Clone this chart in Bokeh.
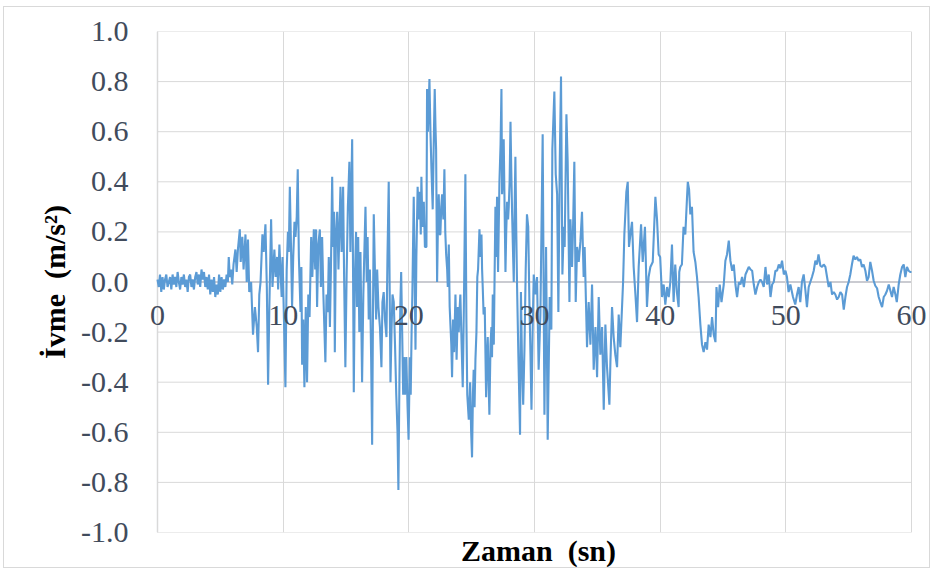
import math

from bokeh.embed import file_html
from bokeh.models import FixedTicker, LinearAxis
from bokeh.plotting import figure
from bokeh.resources import INLINE

# Acceleration record (time in s, acceleration in m/s^2), split into segments
seg_00_06 = [
    (0.0, 0.01), (0.1, -0.02), (0.2, 0.03), (0.3, -0.04), (0.4, 0.02), (0.5, -0.03), (0.6, 0.01), (0.7, 0.03), (0.8, -0.02), (0.9, 0.00),
    (1.0, 0.02), (1.1, -0.03), (1.2, 0.03), (1.3, -0.01), (1.4, 0.02), (1.5, -0.02), (1.6, 0.04), (1.7, 0.00), (1.8, -0.03), (1.9, 0.02),
    (2.0, -0.01), (2.1, 0.03), (2.2, -0.02), (2.3, 0.01), (2.4, -0.04), (2.5, 0.02), (2.6, 0.03), (2.7, -0.02), (2.8, 0.01), (2.9, -0.03),
    (3.0, 0.02), (3.1, 0.04), (3.2, -0.01), (3.3, 0.03), (3.4, -0.02), (3.5, 0.05), (3.6, 0.01), (3.7, 0.04), (3.8, -0.02), (3.9, 0.02),
    (4.0, -0.03), (4.1, 0.03), (4.2, -0.05), (4.3, 0.01), (4.4, -0.04), (4.5, 0.02), (4.6, -0.06), (4.7, -0.01), (4.8, -0.05), (4.9, 0.03),
    (5.0, -0.04), (5.1, 0.02), (5.2, -0.03), (5.3, 0.01), (5.4, -0.02), (5.5, 0.03), (5.6, 0.00),
]

seg_06_10 = [
    (5.67, 0.10), (5.75, 0.02), (5.85, 0.05), (5.95, -0.01), (6.05, 0.07), (6.2, 0.13), (6.3, 0.04), (6.4, 0.13), (6.55, 0.21), (6.62, 0.08),
    (6.75, 0.18), (6.85, 0.05), (7.0, 0.19), (7.1, 0.00), (7.2, 0.17), (7.3, -0.04), (7.45, 0.00), (7.6, -0.21), (7.75, -0.10), (7.9, -0.18),
    (8.0, -0.28), (8.1, -0.05), (8.2, 0.00), (8.35, 0.19), (8.45, 0.12), (8.59, 0.23), (8.7, -0.02), (8.8, -0.41), (8.9, -0.10), (9.04, 0.25),
    (9.15, -0.02), (9.3, 0.13), (9.4, 0.02), (9.52, 0.10), (9.6, -0.03), (9.7, 0.15),
]

seg_10_20 = [
    (9.8, 0.03), (9.88, -0.06), (9.95, 0.10), (10.05, -0.12), (10.18, -0.42), (10.28, 0.05), (10.38, 0.20), (10.45, 0.12), (10.53, 0.38), (10.62, 0.15),
    (10.71, -0.10), (10.8, 0.10), (10.9, 0.24), (10.98, 0.18), (11.08, 0.26), (11.16, 0.45), (11.25, 0.10), (11.38, -0.12), (11.45, 0.06), (11.51, -0.33),
    (11.6, -0.15), (11.69, -0.42), (11.8, -0.10), (11.9, -0.40), (12.0, -0.05), (12.1, -0.14), (12.23, 0.18), (12.32, 0.02), (12.44, 0.21), (12.55, 0.05),
    (12.62, 0.21), (12.7, -0.10), (12.8, 0.15), (12.92, 0.21), (13.0, -0.02), (13.1, 0.18), (13.2, -0.05), (13.36, -0.32), (13.45, -0.05), (13.55, -0.12),
    (13.63, 0.10), (13.72, -0.18), (13.8, 0.05), (13.9, 0.42), (13.97, 0.14), (14.05, 0.28), (14.11, -0.28), (14.2, 0.19), (14.3, 0.28), (14.4, 0.05),
    (14.48, 0.22), (14.56, 0.38), (14.65, 0.12), (14.77, 0.38), (14.85, 0.02), (14.95, -0.34), (15.05, 0.03), (15.15, 0.30), (15.27, 0.48), (15.35, 0.12),
    (15.49, 0.57), (15.56, 0.05), (15.62, -0.44), (15.7, 0.00), (15.8, 0.20), (15.88, -0.10), (15.97, 0.18), (16.06, -0.20), (16.15, 0.12), (16.28, -0.40),
    (16.38, -0.05), (16.45, 0.10), (16.55, 0.30), (16.65, 0.00), (16.72, 0.18), (16.81, -0.15), (16.9, 0.05), (17.0, -0.30), (17.08, -0.65), (17.15, -0.10),
    (17.21, 0.27), (17.3, 0.05), (17.4, -0.15), (17.48, 0.05), (17.58, -0.10), (17.7, -0.18), (17.82, -0.34), (17.9, -0.08), (18.0, -0.04), (18.1, -0.15),
    (18.22, -0.22), (18.3, 0.10), (18.4, 0.40), (18.47, 0.00), (18.54, -0.40), (18.62, -0.20), (18.7, -0.05), (18.8, -0.08), (18.9, -0.25), (19.0, -0.45),
    (19.1, -0.60), (19.17, -0.83), (19.25, -0.40), (19.32, -0.10), (19.39, 0.04), (19.47, -0.20), (19.55, -0.45), (19.62, -0.30), (19.7, -0.45), (19.8, -0.30),
    (19.9, -0.50), (19.98, -0.63), (20.08, -0.30), (20.15, -0.45), (20.22, -0.20), (20.28, -0.05),
]

seg_20_30 = [
    (20.39, 0.34), (20.46, 0.05), (20.53, -0.27), (20.6, 0.10), (20.7, 0.38), (20.79, 0.25), (20.88, 0.36), (20.95, 0.19), (21.0, 0.42), (21.08, 0.22),
    (21.19, 0.32), (21.28, 0.14), (21.4, 0.14), (21.45, 0.77), (21.52, 0.60), (21.58, 0.70), (21.64, 0.81), (21.72, 0.60), (21.8, 0.45), (21.9, 0.29),
    (21.98, 0.55), (22.06, 0.77), (22.12, 0.62), (22.17, 0.53), (22.25, 0.00), (22.32, 0.25), (22.38, 0.35), (22.45, 0.19), (22.51, 0.19), (22.58, 0.30),
    (22.65, 0.35), (22.75, 0.25), (22.83, 0.45), (22.9, 0.20), (22.97, 0.11), (23.05, 0.05), (23.1, -0.02), (23.18, 0.15), (23.25, -0.10), (23.31, -0.17),
    (23.38, -0.25), (23.44, -0.38), (23.52, -0.15), (23.6, -0.28), (23.71, -0.05), (23.8, -0.31), (23.9, -0.10), (23.97, -0.20), (24.05, -0.10), (24.1, -0.05),
    (24.2, -0.25), (24.29, -0.42), (24.38, -0.10), (24.5, 0.43), (24.58, -0.15), (24.65, -0.45), (24.77, -0.55), (24.88, -0.40), (24.96, -0.60), (25.03, -0.70),
    (25.1, -0.45), (25.16, -0.35), (25.23, -0.50), (25.3, -0.31), (25.38, -0.20), (25.45, 0.02), (25.51, 0.05), (25.62, 0.21), (25.7, 0.10), (25.78, 0.19),
    (25.83, 0.05), (25.88, -0.02), (25.95, -0.13), (26.04, -0.10), (26.15, -0.46), (26.22, -0.30), (26.28, -0.22), (26.35, -0.40), (26.41, -0.53), (26.5, -0.25),
    (26.57, -0.18), (26.62, -0.30), (26.68, -0.05), (26.76, -0.25), (26.89, 0.30), (26.95, 0.10), (27.02, 0.34), (27.1, 0.04), (27.21, 0.40), (27.3, 0.55),
    (27.37, 0.77), (27.42, 0.35), (27.47, 0.42), (27.55, 0.57), (27.62, 0.30), (27.69, 0.04), (27.75, 0.20), (27.82, 0.32), (27.9, 0.25), (27.95, 0.30),
    (28.02, 0.40), (28.09, 0.64), (28.15, 0.45), (28.22, 0.27), (28.3, 0.10), (28.35, 0.00), (28.42, 0.30), (28.48, 0.50), (28.55, 0.20), (28.61, -0.01),
    (28.72, -0.30), (28.85, -0.61), (28.92, -0.04), (29.0, -0.30), (29.1, -0.49), (29.2, -0.27), (29.3, 0.05), (29.4, 0.27), (29.5, 0.22), (29.6, -0.10),
    (29.68, -0.29), (29.76, -0.51), (29.85, -0.20), (29.94, 0.03),
]

seg_30_40 = [
    (30.07, -0.05), (30.2, 0.02), (30.33, -0.35), (30.47, -0.13), (30.65, 0.59), (30.79, -0.53), (30.92, 0.14), (31.05, -0.63), (31.21, -0.06), (31.34, -0.19),
    (31.42, 0.53), (31.58, 0.76), (31.69, 0.43), (31.8, 0.35), (31.9, -0.12), (32.01, 0.48), (32.11, 0.82), (32.22, 0.03), (32.33, 0.22), (32.4, 0.14),
    (32.54, 0.67), (32.64, 0.48), (32.78, -0.08), (32.86, 0.25), (32.99, 0.06), (33.07, 0.22), (33.17, 0.48), (33.28, -0.08), (33.39, 0.14), (33.52, 0.08),
    (33.65, 0.16), (33.78, 0.28), (33.91, 0.02), (33.99, 0.14), (34.1, -0.09), (34.18, -0.26), (34.31, -0.08), (34.45, -0.25), (34.58, -0.01), (34.71, -0.35),
    (34.85, -0.18), (34.98, -0.38), (35.11, -0.06), (35.24, -0.29), (35.38, -0.18), (35.51, -0.51), (35.64, -0.17), (35.77, -0.34), (35.96, -0.49), (36.04, -0.32),
    (36.17, -0.10), (36.3, -0.22), (36.43, -0.29), (36.57, -0.34), (36.7, -0.13), (36.83, -0.26), (37.05, 0.00), (37.15, 0.19), (37.31, 0.36), (37.42, 0.40),
    (37.52, 0.14), (37.63, 0.19), (37.76, 0.24), (37.89, 0.06), (38.03, -0.05), (38.16, -0.16), (38.29, 0.06), (38.48, 0.23), (38.61, 0.08), (38.79, 0.22),
    (38.95, -0.10), (39.08, 0.02), (39.22, 0.06), (39.41, 0.08), (39.62, 0.34), (39.75, 0.25), (39.88, 0.11),
]

seg_40_50 = [
    (40.0, 0.10), (40.15, -0.06), (40.28, -0.01), (40.41, -0.09), (40.55, -0.02), (40.68, -0.06), (40.81, 0.00), (40.94, 0.15), (41.07, -0.08), (41.2, 0.07),
    (41.33, -0.04), (41.47, -0.10), (41.52, 0.04), (41.6, 0.06), (41.73, 0.07), (41.86, 0.22), (42.0, 0.19), (42.13, 0.33), (42.2, 0.40), (42.3, 0.37),
    (42.4, 0.27), (42.53, 0.30), (42.66, 0.12), (42.8, 0.08), (42.93, 0.02), (43.06, -0.06), (43.2, -0.17), (43.33, -0.25), (43.46, -0.28), (43.6, -0.24),
    (43.73, -0.27), (43.86, -0.17), (44.0, -0.22), (44.13, -0.14), (44.26, -0.21), (44.4, -0.24), (44.48, -0.02), (44.61, -0.10), (44.74, -0.01), (44.88, -0.08),
    (45.06, -0.01), (45.19, 0.085), (45.32, 0.11), (45.46, 0.165), (45.59, 0.085), (45.73, 0.045), (45.86, 0.07), (45.99, -0.01), (46.12, -0.06), (46.26, 0.00),
    (46.39, -0.01), (46.52, 0.02), (46.66, -0.02), (46.79, 0.03), (46.92, 0.045), (47.05, 0.06), (47.19, 0.05), (47.32, 0.045), (47.45, -0.01), (47.58, -0.05),
    (47.72, -0.02), (47.85, 0.00), (47.98, 0.01), (48.11, 0.00), (48.24, -0.02), (48.38, 0.06), (48.51, -0.01), (48.64, 0.03), (48.78, -0.06), (48.91, -0.01),
    (49.04, 0.00), (49.17, 0.045), (49.3, 0.045), (49.44, 0.07), (49.57, 0.055), (49.7, 0.085), (49.84, 0.03), (49.97, 0.045),
]

seg_50_60 = [
    (50.09, 0.02), (50.22, -0.04), (50.36, -0.01), (50.57, -0.06), (50.75, -0.09), (50.89, -0.05), (51.02, -0.02), (51.15, -0.08), (51.28, 0.00), (51.42, 0.03),
    (51.55, -0.03), (51.68, -0.10), (51.82, -0.02), (51.95, 0.00), (52.08, 0.02), (52.22, 0.045), (52.35, 0.085), (52.48, 0.07), (52.6, 0.11), (52.75, 0.065),
    (52.88, 0.06), (53.01, 0.07), (53.15, 0.06), (53.28, 0.02), (53.41, -0.02), (53.55, 0.00), (53.68, -0.05), (53.81, -0.04), (53.94, -0.05), (54.08, -0.07),
    (54.21, -0.06), (54.34, -0.04), (54.48, -0.05), (54.61, -0.11), (54.74, -0.06), (54.87, -0.02), (55.0, 0.00), (55.13, 0.03), (55.26, 0.07), (55.39, 0.105),
    (55.53, 0.09), (55.66, 0.10), (55.79, 0.085), (55.93, 0.09), (56.06, 0.06), (56.19, 0.07), (56.33, 0.045), (56.46, 0.005), (56.59, 0.02), (56.72, 0.08),
    (56.86, 0.045), (56.99, 0.005), (57.12, -0.015), (57.26, -0.025), (57.39, -0.06), (57.52, -0.08), (57.66, -0.10), (57.79, -0.06), (57.92, -0.05), (58.05, -0.035),
    (58.19, -0.01), (58.32, -0.035), (58.45, -0.06), (58.58, -0.02), (58.72, -0.05), (58.83, -0.08), (58.98, -0.01), (59.11, 0.03), (59.25, 0.06), (59.38, 0.07),
    (59.51, 0.02), (59.64, 0.06), (59.77, 0.045), (59.9, 0.04), (60.0, 0.04),
]

x_ticks = [0, 10, 20, 30, 40, 50, 60]
x_tick_labels = ["0", "10", "20", "30", "40", "50", "60"]
y_ticks = [-1.0, -0.8, -0.6, -0.4, -0.2, 0.0, 0.2, 0.4, 0.6, 0.8, 1.0]
y_tick_labels = ["-1.0", "-0.8", "-0.6", "-0.4", "-0.2", "0.0", "0.2", "0.4", "0.6", "0.8", "1.0"]

x_title = "Zaman\u00a0 (sn)"
y_title = "İvme\u00a0 (m/s²)"

segments = [seg_00_06, seg_06_10, seg_10_20, seg_20_30, seg_30_40, seg_40_50, seg_50_60]
zaman = [t for seg in segments for t, _ in seg]
ivme = [a for seg in segments for _, a in seg]

SERIF = "Liberation Serif"
FONT_SIZE = "30px"
LABEL_COLOR = "#414b5c"
GRID_COLOR = "#d9d9d9"
AXIS_COLOR = "#bfc1c8"
LINE_COLOR = "#5b9bd5"

# plot area spans 0-60 s; the frame is a little wider so the end tick
# labels ("0" and "60") have room on either side
PX_PER_SEC = 754 / 60
PAD_LEFT_PX, PAD_RIGHT_PX = 10, 18
x_lo = x_ticks[0] - PAD_LEFT_PX / PX_PER_SEC
x_hi = x_ticks[-1] + PAD_RIGHT_PX / PX_PER_SEC

p = figure(
    width=927, height=562,
    x_range=(x_lo, x_hi), y_range=(-1, 1),
    output_backend="svg", toolbar_location=None,
    min_border_left=153 - PAD_LEFT_PX, min_border_right=20 - PAD_RIGHT_PX,
    min_border_top=24, min_border_bottom=37,
    background_fill_color="white", border_fill_color="white",
)
p.styles = {"border": "1px solid #d9d9d9", "margin-left": "3px", "margin-top": "6px"}
p.outline_line_color = None

# vertical grid lines at the time ticks
p.xgrid.ticker = FixedTicker(ticks=x_ticks)
p.xgrid.grid_line_color = GRID_COLOR
p.xgrid.grid_line_width = 1
p.ygrid.grid_line_color = None

# horizontal grid lines across 0-60 s only
p.segment(x0=x_ticks[0], x1=x_ticks[-1], y0=y_ticks, y1=y_ticks,
          line_color=GRID_COLOR, line_width=1, level="underlay")
# zero line and left axis line
p.segment(x0=[x_ticks[0], x_ticks[0]], x1=[x_ticks[-1], x_ticks[0]],
          y0=[0, y_ticks[0]], y1=[0, y_ticks[-1]],
          line_color=AXIS_COLOR, line_width=1.3, level="underlay")

# time tick labels next to the zero line
xax = p.xaxis[0]
xax.fixed_location = 0
xax.ticker = FixedTicker(ticks=x_ticks)
xax.major_label_overrides = {t: s for t, s in zip(x_ticks, x_tick_labels)}
xax.major_tick_line_color = None
xax.minor_tick_line_color = None
xax.major_tick_out = 0
xax.major_tick_in = 0
xax.axis_line_color = None
xax.major_label_standoff = 24
xax.major_label_text_font = SERIF
xax.major_label_text_font_size = FONT_SIZE
xax.major_label_text_color = LABEL_COLOR

# time axis title along the bottom edge
title_axis = LinearAxis(
    ticker=FixedTicker(ticks=[]),
    axis_line_color=None,
    major_tick_line_color=None, minor_tick_line_color=None,
    major_tick_out=0, major_tick_in=0,
    major_label_standoff=0, major_label_text_font_size="0px",
    axis_label=x_title, axis_label_standoff=1,
    axis_label_text_font=SERIF, axis_label_text_font_size=FONT_SIZE,
    axis_label_text_font_style="bold", axis_label_text_color="black",
)
p.add_layout(title_axis, "below")

# acceleration axis
yax = p.yaxis[0]
yax.ticker = FixedTicker(ticks=y_ticks)
yax.major_label_overrides = {t: s for t, s in zip(y_ticks, y_tick_labels)}
yax.major_tick_line_color = None
yax.minor_tick_line_color = None
yax.major_tick_out = 0
yax.major_tick_in = 0
yax.axis_line_color = None
yax.major_label_standoff = 29 - PAD_LEFT_PX
yax.major_label_text_font = SERIF
yax.major_label_text_font_size = FONT_SIZE
yax.major_label_text_color = LABEL_COLOR
yax.axis_label = y_title
yax.axis_label_text_font = SERIF
yax.axis_label_text_font_size = FONT_SIZE
yax.axis_label_text_font_style = "bold"
yax.axis_label_text_color = "black"
yax.axis_label_standoff = 7

# acceleration trace
p.line(zaman, ivme, line_color=LINE_COLOR, line_width=2.1)

open("out.html", "w").write(file_html(p, INLINE))
